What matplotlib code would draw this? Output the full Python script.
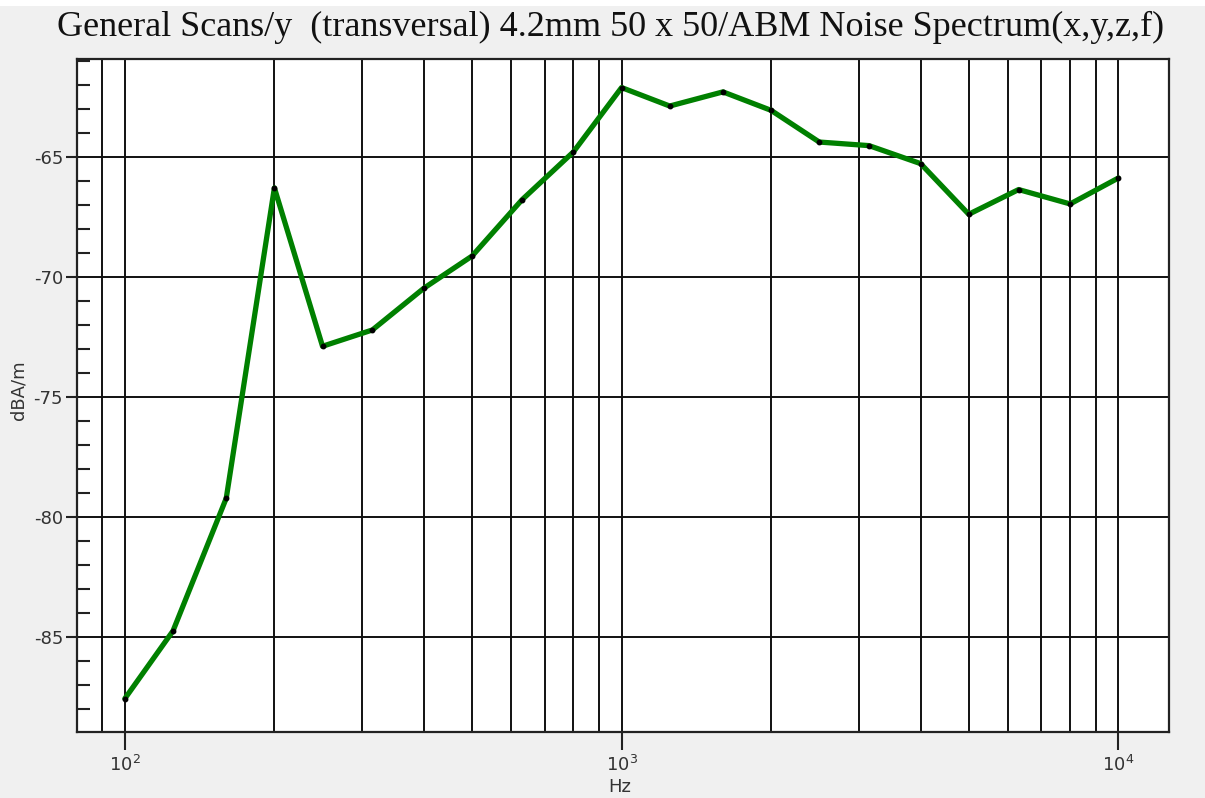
import matplotlib
matplotlib.use("Agg")
import matplotlib.pyplot as plt
from matplotlib.ticker import FixedLocator, NullFormatter
from matplotlib.patches import Rectangle

# One-third octave band centre frequencies (Hz) and measured levels (dBA/m)
freqs = [100, 125, 160, 200, 250, 315, 400, 500, 630, 800, 1000,
         1250, 1600, 2000, 2500, 3150, 4000, 5000, 6300, 8000, 10000]
levels = [-87.58, -84.76, -79.23, -66.3, -72.9, -72.22, -70.48, -69.14,
          -66.8, -64.8, -62.12, -62.89, -62.3, -63.07, -64.39, -64.54,
          -65.29, -67.4, -66.37, -66.97, -65.89]

title = "General Scans/y  (transversal) 4.2mm 50 x 50/ABM Noise Spectrum(x,y,z,f)"
x_label = "Hz"
y_label = "dBA/m"
x_major = [100, 1000, 10000]
x_major_labels = [r"$\mathregular{10^{2}}$", r"$\mathregular{10^{3}}$", r"$\mathregular{10^{4}}$"]
x_grid_minor = [90, 200, 300, 400, 500, 600, 700, 800, 900,
                2000, 3000, 4000, 5000, 6000, 7000, 8000, 9000]
y_major = [-85, -80, -75, -70, -65]
y_minor = [v for v in range(-88, -60) if v % 5 != 0]

bg = "#f0f0f0"
fig = plt.figure(figsize=(12.05, 7.98), dpi=100, facecolor=bg)
fig.add_artist(Rectangle((0, 0.9925), 1, 0.0075, transform=fig.transFigure,
                         facecolor="white", edgecolor="none"))

ax = fig.add_axes([77 / 1205, 1 - 731.7 / 798, (1169 - 77) / 1205, (731.7 - 59) / 798])
ax.set_facecolor("white")
ax.set_xscale("log")
ax.set_xlim(80.1, 12650)
ax.set_ylim(-88.96, -60.93)

ax.plot(freqs, levels, color="#008000", lw=3.8, solid_joinstyle="round",
        solid_capstyle="round", zorder=3)
ax.plot(freqs, levels, ls="none", marker="o", ms=3.2, color="black", zorder=4)

# x axis: decades labelled, intermediate grid lines without ticks
ax.xaxis.set_major_locator(FixedLocator(x_major))
ax.set_xticklabels(x_major_labels)
ax.xaxis.set_minor_locator(FixedLocator(x_grid_minor))
ax.xaxis.set_minor_formatter(NullFormatter())
ax.tick_params(axis="x", which="major", direction="out", length=13, width=1.5,
               color="#222222", labelsize=13, labelcolor="#333333", pad=4)
ax.tick_params(axis="x", which="minor", length=0)

# y axis: labelled every 5 dB, small inward ticks every dB
ax.yaxis.set_major_locator(FixedLocator(y_major))
ax.set_yticklabels([str(v) for v in y_major])
ax.yaxis.set_minor_locator(FixedLocator(y_minor))
ax.tick_params(axis="y", which="major", direction="out", length=8, width=1.5,
               color="#222222", labelsize=13, labelcolor="#333333", pad=2)
ax.tick_params(axis="y", which="minor", direction="in", length=9, width=1.5,
               color="#222222")

ax.grid(True, which="major", color="#111111", lw=1.4)
ax.grid(True, which="minor", axis="x", color="#111111", lw=1.4)
for s in ax.spines.values():
    s.set_color("#222222")
    s.set_linewidth(1.6)

for lab in ax.get_xticklabels() + ax.get_yticklabels():
    lab.set_family("DejaVu Sans")

fig.text(611 / 1205, 1 - 27 / 798, title, family="Liberation Serif",
         fontsize=26, ha="center", va="center", color="#111111")
fig.text(620 / 1205, 1 - 787 / 798, x_label, family="DejaVu Sans", fontsize=13,
         ha="center", va="center", color="#333333")
fig.text(19 / 1205, 1 - 390 / 798, y_label, family="DejaVu Sans", fontsize=13,
         ha="center", va="center", rotation=90, color="#333333")

fig.savefig("out.png", dpi=100, facecolor=bg)
